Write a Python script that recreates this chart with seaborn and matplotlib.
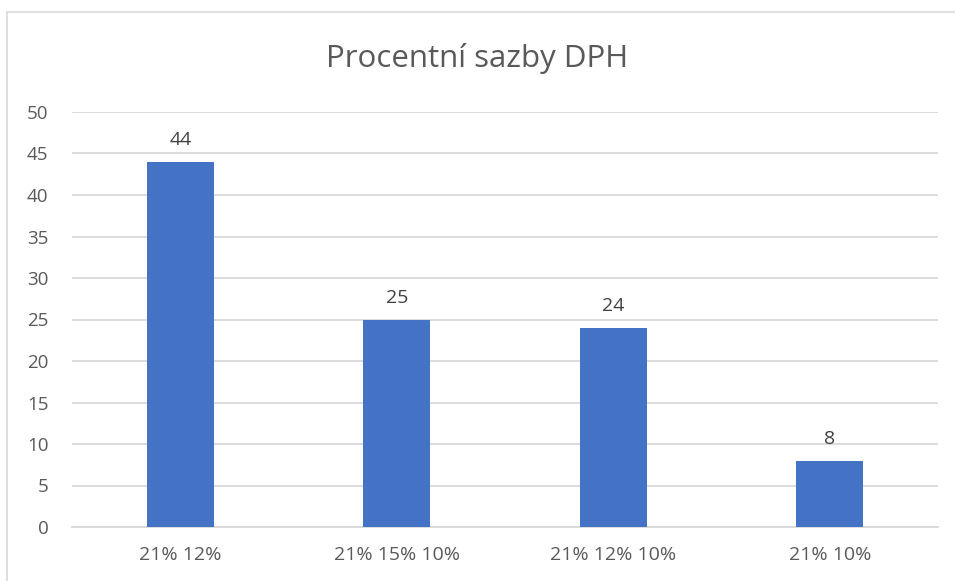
import matplotlib
matplotlib.use("Agg")
import matplotlib.pyplot as plt
import seaborn as sns
import pandas as pd
from matplotlib.patches import Rectangle

categories = ["21% 12%", "21% 15% 10%", "21% 12% 10%", "21% 10%"]
values = [44, 25, 24, 8]
title = "Procentní sazby DPH"
yticks = [0, 5, 10, 15, 20, 25, 30, 35, 40, 45, 50]

sns.set_theme(style="white")
plt.rcParams['font.family'] = ['Open Sans', 'DejaVu Sans']

text_color = "#595959"
label_color = "#404040"
grid_color = "#D9D9D9"
bar_color = "#4472C4"

df = pd.DataFrame({"cat": categories, "val": values})

fig = plt.figure(figsize=(9.55, 5.81), dpi=100)
fig.patch.set_facecolor("white")
ax = fig.add_axes([72/955, 54/581, 866/955, 415/581])

sns.barplot(data=df, x="cat", y="val", color=bar_color, width=0.31,
            saturation=1, linewidth=0, ax=ax, zorder=3)

ax.set_ylim(0, 50)
ax.set_xlim(-0.5, len(categories) - 0.5)
ax.set_yticks(yticks)
ax.yaxis.grid(True, color=grid_color, linewidth=1.3, zorder=0)
ax.set_axisbelow(True)
for s in ["top", "right", "left"]:
    ax.spines[s].set_visible(False)
ax.spines["bottom"].set_color(grid_color)
ax.spines["bottom"].set_linewidth(1.3)
ax.tick_params(axis="both", length=0, labelsize=13.5, colors=text_color)
ax.tick_params(axis="x", labelsize=14, pad=14)
ax.tick_params(axis="y", pad=17)
ax.set_xlabel("")
ax.set_ylabel("")

for c in ax.containers:
    ax.bar_label(c, labels=[str(v) for v in values], padding=9, fontsize=14, color=label_color)

fig.text(0.5, 1 - 58/581, title, ha="center", va="center", fontsize=22.5, color=text_color)

fig.patches.append(Rectangle((7/955, -0.05), 1.0, 1 - 12/581 + 0.05, transform=fig.transFigure,
                             fill=False, edgecolor=grid_color, linewidth=1.2))

fig.savefig("out.png", dpi=100, facecolor="white")
